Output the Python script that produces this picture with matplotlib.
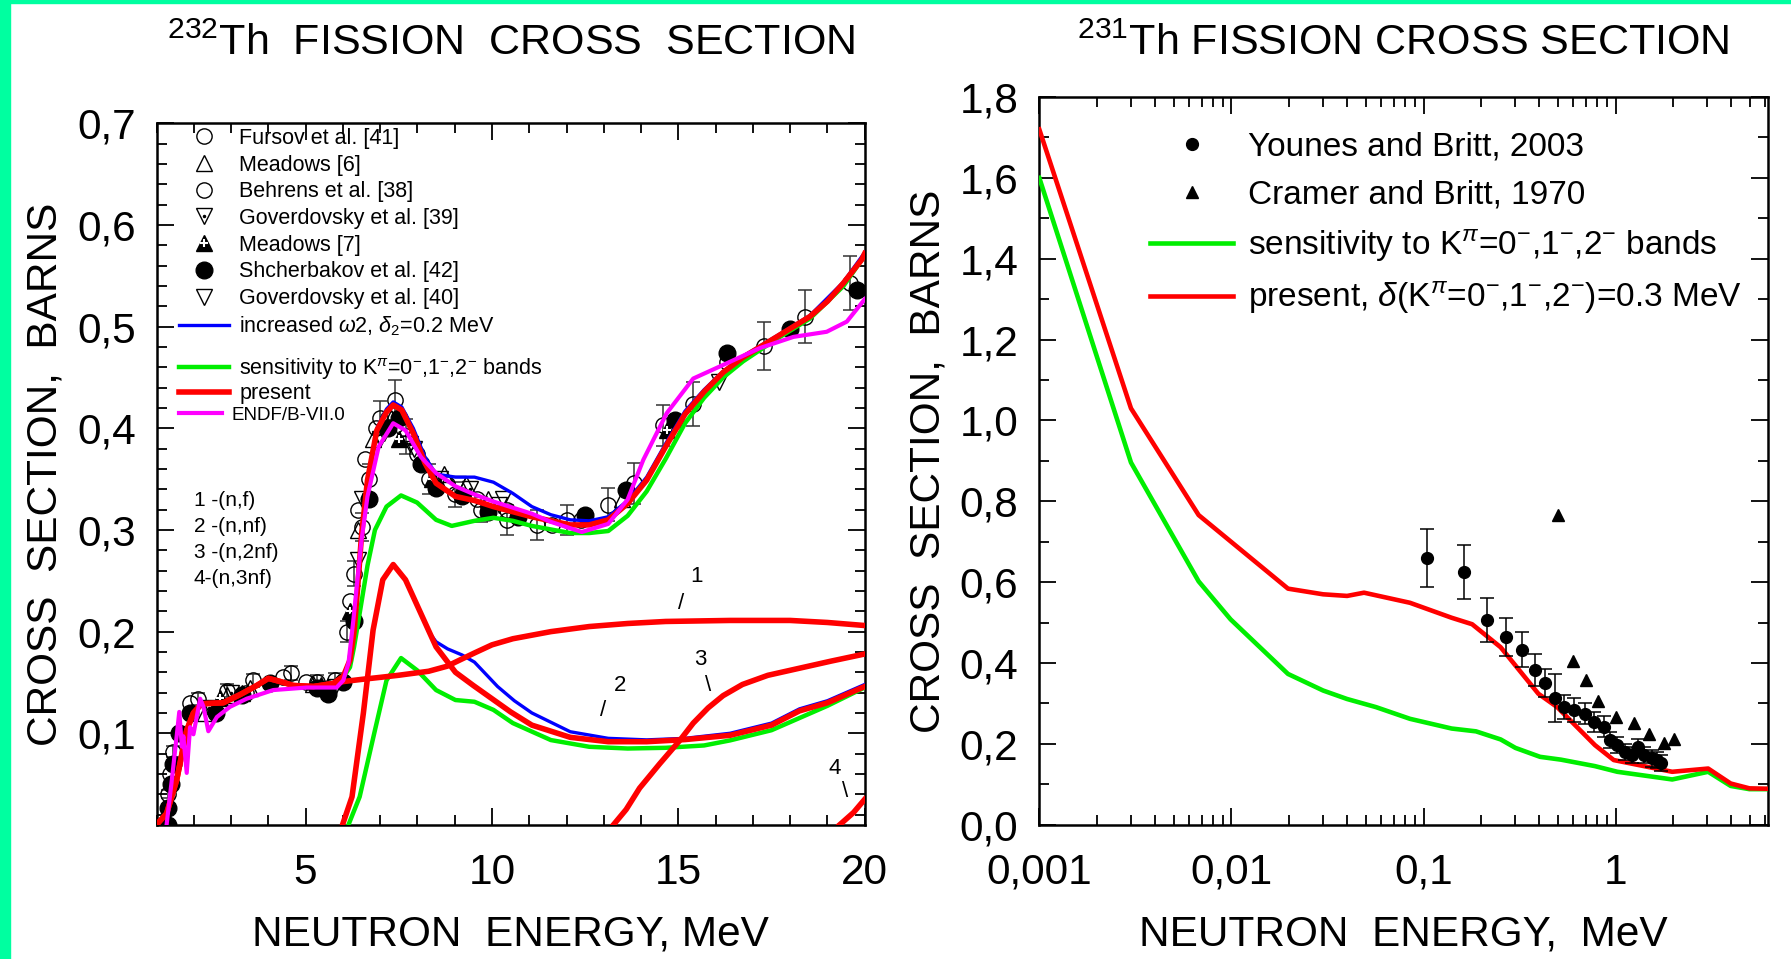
import matplotlib
matplotlib.use('Agg')
from matplotlib import pyplot as plt
from matplotlib import patches as patches
from matplotlib import ticker
from matplotlib.legend_handler import HandlerTuple

plt.rcParams['font.family'] = ['Liberation Sans', 'DejaVu Sans']
plt.rcParams['mathtext.fontset'] = 'custom'
plt.rcParams['mathtext.rm'] = 'Liberation Sans'
plt.rcParams['mathtext.it'] = 'Liberation Sans:italic'
plt.rcParams['mathtext.bf'] = 'Liberation Sans:bold'
plt.rcParams['axes.linewidth'] = 1.8

## 232Th: calculated curves (energy MeV, cross section b)
tot_e = [1.0, 1.27, 1.54, 1.81, 1.99, 2.21, 2.79, 3.24, 3.69, 4.0, 4.31, 4.67, 5.21, 5.74, 6.01,
         6.19, 6.3, 6.4, 6.5, 6.66, 6.91, 7.17, 7.35, 7.58, 7.89, 8.2, 8.5, 9.02, 9.53, 10.04,
         11.07, 12.1, 12.61, 13.12, 13.64, 14.15, 14.66, 15.18, 15.69, 16.2, 16.74, 17.64, 18.53,
         19.0, 19.43, 19.92, 20.0]
tot_s = [0.01, 0.021, 0.054, 0.103, 0.12, 0.129, 0.13, 0.138, 0.147, 0.154, 0.151, 0.147, 0.146, 0.149, 0.156,
         0.172, 0.2, 0.245, 0.295, 0.349, 0.398, 0.416, 0.423, 0.418, 0.395, 0.366, 0.346, 0.333, 0.329, 0.323,
         0.313, 0.305, 0.305, 0.31, 0.326, 0.349, 0.382, 0.414, 0.436, 0.455, 0.47, 0.49, 0.51,
         0.525, 0.543, 0.566, 0.572]

blue_e = [5.74, 6.01, 6.19, 6.3, 6.4, 6.5, 6.66, 6.91, 7.17, 7.35, 7.58, 7.89, 8.2, 8.5, 9.02, 9.53,
          10.04, 10.56, 11.07, 11.58, 12.1, 12.61, 13.12, 13.64, 14.15, 14.66, 15.18, 15.69, 16.2,
          16.74, 17.64, 18.53, 19.43, 20.0]
blue_s = [0.149, 0.156, 0.172, 0.2, 0.245, 0.295, 0.349, 0.4, 0.419, 0.426, 0.421, 0.4, 0.372, 0.355, 0.352, 0.352,
          0.347, 0.336, 0.323, 0.315, 0.31, 0.309, 0.313, 0.329, 0.352, 0.385, 0.417, 0.438, 0.456,
          0.471, 0.491, 0.511, 0.544, 0.573]

green_e = [5.74, 6.01, 6.19, 6.3, 6.45, 6.66, 6.86, 7.17, 7.56, 7.99, 8.5, 8.92, 9.53, 10.04, 10.56,
           11.07, 12.1, 12.61, 13.12, 13.64, 14.15, 14.66, 15.18, 15.69, 16.2, 16.74, 17.64, 18.53,
           19.43, 20.0]
green_s = [0.149, 0.155, 0.165, 0.185, 0.218, 0.265, 0.3, 0.323, 0.334, 0.327, 0.31, 0.304, 0.309, 0.312, 0.309,
           0.304, 0.297, 0.297, 0.299, 0.314, 0.338, 0.37, 0.405, 0.43, 0.45, 0.466, 0.488, 0.508,
           0.54, 0.57]

endf_e = [1.27, 1.41, 1.54, 1.61, 1.68, 1.72, 1.81, 1.9, 1.99, 2.17, 2.26, 2.39, 2.62, 2.97, 3.42,
          4.13, 5.03, 5.83, 6.01, 6.15, 6.28, 6.39, 6.5, 6.66, 6.96, 7.35, 7.68, 8.09, 8.5, 9.02,
          9.53, 10.04, 11.07, 11.58, 12.41, 13.12, 13.64, 14.06, 14.69, 15.4, 16.12, 17.19, 18.09,
          18.98, 19.52, 20.0]
endf_s = [0.01, 0.054, 0.097, 0.121, 0.087, 0.097, 0.061, 0.106, 0.099, 0.134, 0.126, 0.102, 0.116, 0.126, 0.134,
          0.1425, 0.145, 0.145, 0.152, 0.169, 0.211, 0.251, 0.29, 0.333, 0.382, 0.405, 0.398, 0.372, 0.356, 0.343,
          0.335, 0.328, 0.316, 0.308, 0.298, 0.306, 0.33, 0.369, 0.415, 0.449, 0.461, 0.479, 0.49,
          0.495, 0.505, 0.527]

# partial chances
nf_e = [1.0, 1.27, 1.54, 1.81, 1.99, 2.21, 2.79, 3.24, 3.69, 4.0, 4.31, 4.67, 5.21, 5.74, 6.04,
        6.5, 7.0, 7.48, 8.3, 8.8, 9.02, 9.53, 10.0, 10.56, 11.58, 12.61, 13.64, 14.66, 16.39,
        18.0, 19.0, 20.0]
nf_s = [0.01, 0.021, 0.054, 0.103, 0.12, 0.129, 0.13, 0.138, 0.147, 0.154, 0.151, 0.147, 0.146, 0.149, 0.151,
        0.153, 0.155, 0.157, 0.161, 0.166, 0.17, 0.179, 0.187, 0.193, 0.2, 0.205, 0.208, 0.21, 0.211,
        0.211, 0.209, 0.206]

nnf_e = [5.99, 6.245, 6.55, 6.81, 7.07, 7.35, 7.68, 8.09, 8.5, 9.02, 9.5, 10.0, 10.5, 11.07, 12.1,
         13.12, 14.15, 15.18, 16.39, 17.5, 18.25, 19.0, 20.0]
nnf_s = [0.01, 0.0375, 0.12, 0.2015, 0.251, 0.266, 0.251, 0.218, 0.185, 0.16, 0.147, 0.134, 0.121, 0.108, 0.096,
         0.0917, 0.0917, 0.0938, 0.098, 0.108, 0.122, 0.13, 0.146]
nnf_blue_e = [7.35, 7.68, 8.09, 8.3, 8.5, 8.81, 9.2, 9.53, 10.15, 10.6, 11.07, 12.1, 13.12, 14.15, 15.18,
              16.39, 17.5, 18.25, 19.0, 20.0]
nnf_blue_s = [0.266, 0.251, 0.218, 0.2, 0.19, 0.183, 0.177, 0.17, 0.146, 0.132, 0.12, 0.1015, 0.095, 0.0935, 0.095,
              0.1, 0.11, 0.124, 0.132, 0.148]
nnf_green_e = [6.15, 6.45, 6.86, 7.17, 7.56, 7.99, 8.5, 9.02, 9.53, 10.04, 10.56, 11.58, 12.61, 13.64,
               14.66, 15.69, 16.39, 17.5, 18.25, 19.0, 20.0]
nnf_green_s = [0.01, 0.0375, 0.103, 0.152, 0.174, 0.162, 0.1425, 0.1327, 0.131, 0.123, 0.11, 0.0933, 0.0867, 0.085,
               0.0857, 0.088, 0.093, 0.103, 0.115, 0.127, 0.145]

n2nf_e = [13.26, 13.6, 13.96, 14.5, 15.04, 15.4, 15.8, 16.2, 16.72, 17.4, 18.25, 19.1, 20.0]
n2nf_s = [0.01, 0.025, 0.046, 0.07, 0.093, 0.11, 0.125, 0.137, 0.148, 0.157, 0.164, 0.171, 0.178]
n3nf_e = [19.33, 19.7, 20.0]
n3nf_s = [0.01, 0.022, 0.035]

## 232Th: measurements
furs_e = [1.3, 1.45, 2.1, 2.9, 3.6, 4.6, 5.3, 5.8, 6.1, 6.3, 6.5, 6.7, 7.0, 7.4, 7.7, 8.3, 9.0, 9.7,
          10.4, 11.2, 12.0, 13.1, 13.8, 14.6, 15.4, 17.3, 18.4, 19.6]
furs_s = [0.04, 0.082, 0.134, 0.142, 0.152, 0.159, 0.15, 0.152, 0.2, 0.257, 0.303, 0.35, 0.41, 0.428, 0.392,
          0.35, 0.335, 0.32, 0.31, 0.305, 0.31, 0.325, 0.346, 0.403, 0.424, 0.481, 0.51, 0.543]
furs_d = [0.004, 0.005, 0.006, 0.006, 0.006, 0.007, 0.007, 0.007, 0.01, 0.012, 0.014, 0.015, 0.017, 0.02, 0.017,
          0.015, 0.012, 0.012, 0.015, 0.015, 0.015, 0.016, 0.02, 0.02, 0.022, 0.024, 0.026, 0.027]

behr_e = [1.35, 1.9, 2.5, 3.4, 4.4, 5.0, 5.6, 6.2, 6.4, 6.6, 6.9, 7.2, 7.6, 8.0, 8.8, 9.6, 10.4, 11.6, 12.4, 16.3]
behr_s = [0.06, 0.13, 0.125, 0.14, 0.155, 0.15, 0.145, 0.23, 0.32, 0.37, 0.4, 0.41, 0.4, 0.375, 0.345, 0.33, 0.32,
          0.305, 0.31, 0.465]
mead6_e = [2.3, 2.9, 3.5, 5.2, 6.4, 6.8, 7.3, 8.1, 8.7, 9.3, 9.9, 13.5]
mead6_s = [0.12, 0.138, 0.145, 0.148, 0.3, 0.39, 0.41, 0.37, 0.355, 0.345, 0.33, 0.33]
gov39_e = [2.4, 3.0, 5.5, 6.5, 7.1, 7.8, 8.6, 9.4, 10.2]
gov39_s = [0.125, 0.14, 0.142, 0.33, 0.395, 0.385, 0.35, 0.34, 0.325]
mead7_e = [2.7, 3.3, 5.4, 6.2, 7.5, 8.4, 14.7]
mead7_s = [0.135, 0.14, 0.147, 0.22, 0.39, 0.35, 0.398]
shch_e = [1.3, 1.32, 1.38, 1.45, 1.6, 1.9, 2.6, 3.3, 4.05, 5.3, 5.6, 6.0, 6.3, 6.7, 7.2, 7.5, 8.1, 8.5,
          9.2, 9.9, 10.7, 12.5, 13.6, 14.9, 16.3, 18.0, 19.8]
shch_s = [0.01, 0.026, 0.05, 0.07, 0.1, 0.12, 0.12, 0.138, 0.149, 0.145, 0.139, 0.15, 0.21, 0.33, 0.4, 0.41,
          0.365, 0.341, 0.333, 0.318, 0.313, 0.315, 0.339, 0.408, 0.474, 0.498, 0.536]
gov40_e = [5.8, 6.4, 7.0, 7.9, 9.1, 10.3, 16.1]
gov40_s = [0.146, 0.27, 0.39, 0.38, 0.345, 0.33, 0.446]

## 231Th
pres_e = [0.001, 0.003, 0.00675, 0.0197, 0.03, 0.04, 0.049, 0.085, 0.14, 0.179, 0.252, 0.396, 0.496,
          0.78, 0.977, 1.97, 3.03, 3.97, 4.97, 6.2]
pres_s = [1.72, 1.03, 0.766, 0.584, 0.57, 0.566, 0.574, 0.549, 0.512, 0.496, 0.439, 0.324, 0.291,
          0.197, 0.16, 0.131, 0.139, 0.102, 0.09, 0.089]
sens_e = [0.001, 0.003, 0.00675, 0.0099, 0.0197, 0.03, 0.04, 0.0565, 0.085, 0.14, 0.1875, 0.252, 0.301,
          0.404, 0.519, 0.78, 1.02, 1.97, 3.03, 3.97, 4.97, 6.2]
sens_s = [1.6, 0.896, 0.602, 0.508, 0.373, 0.332, 0.311, 0.291, 0.262, 0.238, 0.231, 0.211, 0.19,
          0.168, 0.161, 0.145, 0.131, 0.112, 0.131, 0.096, 0.088, 0.088]
youn_e = [0.104, 0.163, 0.215, 0.268, 0.326, 0.38, 0.431, 0.483, 0.538, 0.608, 0.696, 0.773, 0.873,
          0.935, 1.02, 1.12, 1.22, 1.31, 1.4, 1.54, 1.65, 1.72]
youn_s = [0.66, 0.625, 0.506, 0.465, 0.433, 0.383, 0.351, 0.314, 0.291, 0.283, 0.275, 0.254, 0.243,
          0.209, 0.197, 0.18, 0.172, 0.193, 0.172, 0.164, 0.16, 0.152]
youn_d = [0.071, 0.066, 0.055, 0.047, 0.043, 0.04, 0.035, 0.06, 0.03, 0.03, 0.025, 0.025, 0.025,
          0.02, 0.02, 0.02, 0.02, 0.02, 0.02, 0.02, 0.02, 0.02]
cram_e = [0.5, 0.6, 0.7, 0.805, 1.0, 1.24, 1.5, 1.78, 2.02]
cram_s = [0.766, 0.406, 0.357, 0.307, 0.266, 0.252, 0.225, 0.202, 0.213]

chan_labels = ['1 -(n,f)', '2 -(n,nf)', '3 -(n,2nf)', '4-(n,3nf)']
left_yticks = [0.1, 0.2, 0.3, 0.4, 0.5, 0.6, 0.7]
left_ylabels = ['0,1', '0,2', '0,3', '0,4', '0,5', '0,6', '0,7']
right_xticks = [0.001, 0.01, 0.1, 1]
right_xlabels = ['0,001', '0,01', '0,1', '1']
right_yticks = [0.0, 0.2, 0.4, 0.6, 0.8, 1.0, 1.2, 1.4, 1.6, 1.8]
right_ylabels = ['0,0', '0,2', '0,4', '0,6', '0,8', '1,0', '1,2', '1,4', '1,6', '1,8']

fig = plt.figure(figsize=(17.91, 9.59), dpi=100)
ax1 = fig.add_axes([0.0874, 0.140, 0.3954, 0.7313])
ax2 = fig.add_axes([0.5803, 0.140, 0.4068, 0.7588])

# green frame on the left and top edge
fig.patches.append(patches.Rectangle((0, 0), 10 / 1791, 1, transform=fig.transFigure, color='#00ffa0', zorder=0))
fig.patches.append(patches.Rectangle((0, 1 - 3 / 959), 1, 3 / 959, transform=fig.transFigure, color='#00ffa0', zorder=0))

# ---- left panel ----
ms = 11
ax1.errorbar(furs_e, furs_s, yerr=furs_d, fmt='none', ecolor='#333333', elinewidth=1.1, capsize=5, capthick=1.1, zorder=2)
h_furs, = ax1.plot(furs_e, furs_s, 'o', mfc='none', mec='k', ms=ms, mew=1.0, zorder=3)
h_mead6, = ax1.plot(mead6_e, mead6_s, '^', mfc='none', mec='k', ms=ms, mew=1.0, zorder=3)
h_behr, = ax1.plot(behr_e, behr_s, 'o', mfc='none', mec='k', ms=ms, mew=1.0, zorder=3)
h_g39a, = ax1.plot(gov39_e, gov39_s, 'v', mfc='none', mec='k', ms=ms, mew=1.0, zorder=3)
h_g39b, = ax1.plot(gov39_e, gov39_s, '.', color='k', ms=3, zorder=3)
h_m7a, = ax1.plot(mead7_e, mead7_s, '^', color='k', ms=ms, zorder=3)
h_m7b, = ax1.plot(mead7_e, mead7_s, '+', color='w', ms=6, mew=1.5, zorder=3)
h_shch, = ax1.plot(shch_e, shch_s, 'o', color='k', ms=12, zorder=3)
h_gov40, = ax1.plot(gov40_e, gov40_s, 'v', mfc='none', mec='k', ms=ms, mew=1.0, zorder=3)

ax1.plot(nnf_green_e, nnf_green_s, color='#00ee00', lw=3.2, zorder=4)
h_green, = ax1.plot(green_e, green_s, color='#00ee00', lw=3.2, zorder=4)
ax1.plot(nnf_blue_e, nnf_blue_s, color='#0000ff', lw=2.4, zorder=5)
h_blue, = ax1.plot(blue_e, blue_s, color='#0000ff', lw=2.4, zorder=5)
h_red, = ax1.plot(tot_e, tot_s, color='#ff0000', lw=4, zorder=6)
for e, s in [(nf_e, nf_s), (nnf_e, nnf_s), (n2nf_e, n2nf_s), (n3nf_e, n3nf_s)]:
    ax1.plot(e, s, color='#ff0000', lw=4, zorder=6)
h_endf, = ax1.plot(endf_e, endf_s, color='#ff00ff', lw=3, zorder=7)

# legend in three blocks to keep the uneven row gaps of the original
leg_kw = dict(frameon=False, handletextpad=0.47, borderpad=0, borderaxespad=0,
              handler_map={tuple: HandlerTuple(ndivide=1, pad=0)})
leg_a = ax1.legend([h_furs, h_mead6, h_behr, (h_g39a, h_g39b), (h_m7a, h_m7b), h_shch, h_gov40, h_blue],
                   ['Fursov et al. [41]', 'Meadows [6]', 'Behrens et al. [38]', 'Goverdovsky et al. [39]',
                    'Meadows [7]', 'Shcherbakov et al. [42]', 'Goverdovsky et al. [40]',
                    r'increased $\omega$2, $\delta_2$=0.2 MeV'],
                   loc='center left', bbox_to_anchor=(0.032, 0.8435), fontsize=15.5,
                   handlelength=2.33, labelspacing=0.265, **leg_kw)
ax1.add_artist(leg_a)
leg_b = ax1.legend([h_green, h_red],
                   [r'sensitivity to K$^{\pi}$=0$^{-}$,1$^{-}$,2$^{-}$ bands', 'present'],
                   loc='center left', bbox_to_anchor=(0.032, 0.634), fontsize=15.5,
                   handlelength=2.33, labelspacing=0.05, **leg_kw)
ax1.add_artist(leg_b)
ax1.legend([h_endf], ['ENDF/B-VII.0'], loc='center left', bbox_to_anchor=(0.032, 0.584),
           fontsize=13.5, handlelength=2.3, **leg_kw)

for k, lab in enumerate(chan_labels):
    ax1.text(2.0, 0.329 - k * 0.0255, lab, fontsize=15, va='center')

# channel numbers with their short pointer strokes
ax1.text(15.5, 0.254, '1', fontsize=16, ha='center', va='center')
ax1.text(15.07, 0.228, '/', fontsize=16, ha='center', va='center')
ax1.text(13.44, 0.147, '2', fontsize=16, ha='center', va='center')
ax1.text(12.98, 0.122, '/', fontsize=16, ha='center', va='center')
ax1.text(15.59, 0.173, '3', fontsize=16, ha='center', va='center')
ax1.text(15.8, 0.147, '\\', fontsize=16, ha='center', va='center')
ax1.text(19.2, 0.065, '4', fontsize=16, ha='center', va='center')
ax1.text(19.48, 0.043, '\\', fontsize=16, ha='center', va='center')

ax1.set_xlim(1, 20)
ax1.set_ylim(0.01, 0.7)
ax1.set_xticks([5, 10, 15, 20])
ax1.set_yticks(left_yticks, labels=left_ylabels)
ax1.xaxis.set_minor_locator(ticker.MultipleLocator(1))
ax1.yaxis.set_minor_locator(ticker.MultipleLocator(0.02))
ax1.set_title('$^{232}$Th  FISSION  CROSS  SECTION', fontsize=31, pad=49)
ax1.set_xlabel('NEUTRON  ENERGY, MeV', fontsize=30.5)
ax1.set_ylabel('CROSS  SECTION,  BARNS', fontsize=30.5)
ax1.xaxis.set_label_coords(0.5, -0.128)
ax1.yaxis.set_label_coords(-0.128, 0.5)

# ---- right panel ----
h_sens, = ax2.plot(sens_e, sens_s, color='#00ee00', lw=3.3, zorder=3)
h_pres, = ax2.plot(pres_e, pres_s, color='#ff0000', lw=3.3, zorder=4)
ax2.errorbar(youn_e, youn_s, yerr=youn_d, fmt='none', ecolor='k', elinewidth=1.1, capsize=5, capthick=1.1, zorder=5)
h_youn, = ax2.plot(youn_e, youn_s, 'o', color='k', ms=8.5, zorder=6)
h_cram, = ax2.plot(cram_e, cram_s, '^', color='k', ms=8.5, zorder=6)

ax2.legend([h_youn, h_cram, h_sens, h_pres],
           ['Younes and Britt, 2003', 'Cramer and Britt, 1970',
            r'sensitivity to K$^{\pi}$=0$^{-}$,1$^{-}$,2$^{-}$ bands',
            r'present, $\delta$(K$^{\pi}$=0$^{-}$,1$^{-}$,2$^{-}$)=0.3 MeV'],
           loc='upper left', bbox_to_anchor=(0.152, 0.952), frameon=False, fontsize=24,
           handlelength=2.5, handletextpad=0.45, labelspacing=0.5, borderpad=0, borderaxespad=0)

ax2.set_xscale('log')
ax2.set_xlim(0.001, 6.2)
ax2.set_ylim(0, 1.8)
ax2.set_xticks(right_xticks, labels=right_xlabels)
ax2.xaxis.set_minor_locator(ticker.LogLocator(base=10, subs=(2, 3, 4, 5, 6, 7, 8, 9)))
ax2.xaxis.set_minor_formatter(ticker.NullFormatter())
ax2.set_yticks(right_yticks, labels=right_ylabels)
ax2.yaxis.set_minor_locator(ticker.MultipleLocator(0.1))
ax2.set_title('$^{231}$Th FISSION CROSS SECTION', fontsize=31, pad=30)
ax2.set_xlabel('NEUTRON  ENERGY,  MeV', fontsize=30.5)
ax2.set_ylabel('CROSS  SECTION,  BARNS', fontsize=30.5)
ax2.xaxis.set_label_coords(0.5, -0.123)
ax2.yaxis.set_label_coords(-0.125, 0.5)

for ax in (ax1, ax2):
    ax.tick_params(which='both', direction='in', top=True, right=True, width=1.3, labelsize=30.5)
    ax.tick_params(which='major', length=12)
    ax.tick_params(which='minor', length=7)
    ax.tick_params(axis='x', pad=20)
    ax.tick_params(axis='y', pad=15)

fig.savefig('out.png', dpi=100)
